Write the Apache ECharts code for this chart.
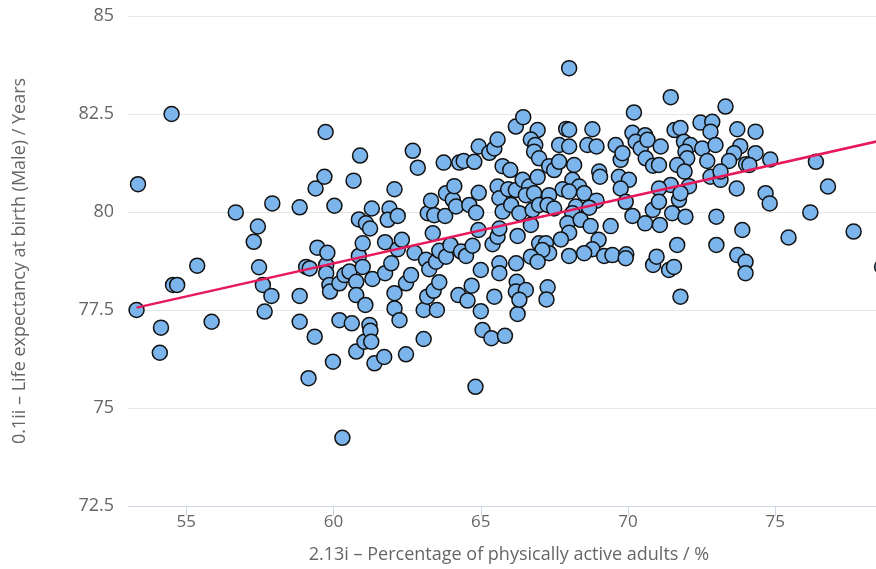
<!DOCTYPE html>
<html lang="en">
<head>
    <meta charset="UTF-8">
    <title>Activity vs life expectancy</title>
    <script src="https://cdn.jsdelivr.net/npm/echarts@6/dist/echarts.min.js"></script>
    <style type="text/css">
        html, body {
            margin: 0;
            height: 100%;
            background: #ffffff;
        }
        #chart {
            width: 876px;
            height: 569px;
        }
    </style>
</head>
<body>
    <div id="chart"></div>
    <script type="text/javascript">
        // x: % physically active adults, y: male life expectancy (years)
        var activeAdults = [
            53.31, 53.36, 54.14, 54.10, 54.50, 54.55, 54.69, 55.37, 55.86, 56.68,
            57.29, 57.43, 57.47, 57.60, 57.66, 57.89, 57.92, 58.85, 58.85, 58.85,
            59.07, 59.19, 59.15, 59.36, 59.39, 59.45, 59.69, 59.73, 59.75, 59.75,
            59.79, 59.86, 59.88, 59.98, 60.03, 60.20, 60.20, 60.30, 60.37, 60.54,
            60.62, 60.68, 60.77, 60.77, 60.77, 60.86, 60.86, 60.90, 60.99, 60.99,
            61.05, 61.08, 61.10, 61.24, 61.22, 61.25, 61.28, 61.30, 61.32, 61.39,
            61.75, 61.75, 61.72, 61.90, 61.84, 61.96, 62.07, 62.07, 62.07, 62.18,
            62.18, 62.24, 62.32, 62.46, 62.46, 62.63, 62.69, 62.75, 62.86, 63.06,
            63.06, 63.14, 63.18, 63.20, 63.25, 63.31, 63.37, 63.40, 63.42, 63.48,
            63.51, 63.59, 63.59, 63.74, 63.79, 63.82, 63.82, 63.97, 64.05, 64.10,
            64.16, 64.24, 64.27, 64.33, 64.42, 64.50, 64.55, 64.61, 64.69, 64.72,
            64.78, 64.82, 64.84, 64.92, 64.93, 64.93, 65.00, 65.00, 65.06, 65.29,
            65.36, 65.40, 65.46, 65.46, 65.57, 65.57, 65.57, 65.63, 65.63, 65.63,
            65.63, 65.74, 65.74, 65.82, 65.93, 66.00, 66.03, 66.20, 66.19, 66.19,
            66.25, 66.22, 66.19, 66.25, 66.44, 66.42, 66.64, 66.93, 66.53, 66.81,
            66.31, 66.76, 66.98, 66.70, 66.53, 66.31, 66.93, 66.70, 66.85, 66.81,
            66.98, 67.90, 68.00, 68.79, 70.15, 70.58, 70.20, 67.66, 68.00, 68.62,
            68.93, 69.58, 70.26, 70.43, 70.66, 69.75, 69.81, 70.60, 70.85, 67.32,
            67.49, 67.66, 68.17, 69.02, 69.05, 69.69, 70.03, 69.75, 69.92, 68.11,
            68.34, 67.78, 68.00, 68.51, 68.93, 67.32, 67.27, 67.49, 68.23, 68.11,
            68.68, 67.94, 68.39, 68.73, 69.41, 70.15, 70.58, 70.84, 68.00, 67.72,
            69.00, 68.79, 66.98, 67.21, 67.32, 67.09, 66.70, 66.93, 68.00, 68.51,
            69.19, 69.47, 69.94, 69.92, 70.85, 67.27, 67.23, 71.45, 73.31, 72.46,
            72.86, 72.80, 71.58, 71.78, 73.71, 74.33, 71.11, 71.90, 72.12, 71.95,
            72.01, 72.52, 72.97, 73.81, 74.33, 73.60, 73.43, 72.69, 74.83, 74.01,
            74.12, 71.05, 71.67, 71.92, 72.80, 73.14, 73.14, 72.07, 71.45, 71.05,
            73.69, 74.67, 74.81, 71.05, 71.73, 71.78, 71.50, 71.95, 71.08, 73.00,
            73.88, 75.45, 71.67, 73.00, 70.97, 71.39, 71.56, 73.71, 73.99, 73.99,
            71.78, 76.38, 76.79, 76.19, 77.66, 78.63, 68.00
        ];
        var lifeExpectancy = [
            77.50, 80.71, 77.05, 76.41, 82.50, 78.14, 78.14, 78.63, 77.20, 79.99,
            79.24, 79.63, 78.59, 78.14, 77.46, 77.86, 80.22, 80.12, 77.86, 77.20,
            78.60, 78.56, 75.76, 76.82, 80.60, 79.09, 80.90, 82.04, 78.65, 78.44,
            78.96, 78.14, 77.97, 76.18, 80.16, 78.18, 77.24, 74.24, 78.39, 78.48,
            77.16, 80.80, 78.22, 77.88, 76.44, 78.88, 79.81, 81.44, 78.60, 79.20,
            76.69, 77.63, 79.71, 79.58, 77.12, 76.97, 76.69, 80.09, 78.29, 76.14,
            79.23, 78.44, 76.30, 80.09, 79.80, 78.69, 80.58, 77.93, 77.54, 79.90,
            79.05, 77.24, 79.29, 78.18, 76.37, 78.39, 81.56, 78.96, 81.13, 77.50,
            76.76, 78.78, 77.84, 79.97, 78.54, 80.29, 79.46, 77.99, 79.92, 78.73,
            77.50, 79.01, 78.21, 81.26, 79.90, 80.48, 78.86, 79.16, 80.31, 80.66,
            80.14, 77.88, 81.26, 78.99, 81.30, 78.88, 77.74, 80.18, 78.12, 79.14,
            81.28, 75.54, 79.98, 79.54, 81.67, 80.49, 78.52, 77.47, 76.99, 81.51,
            76.78, 79.18, 81.62, 77.84, 81.85, 80.65, 79.37, 80.35, 79.58, 78.69,
            78.44, 81.17, 80.01, 76.84, 80.58, 81.07, 80.18, 78.69, 82.18, 80.56,
            79.39, 78.22, 77.97, 77.40, 82.42, 80.82, 80.65, 80.89, 80.43, 80.48,
            79.97, 80.05, 80.18, 79.67, 78.01, 77.76, 82.09, 81.85, 81.71, 81.54,
            81.37, 82.12, 82.10, 82.11, 82.02, 81.96, 82.54, 81.71, 81.67, 81.71,
            81.67, 81.71, 81.79, 81.62, 81.84, 81.33, 81.50, 81.37, 81.18, 81.17,
            81.07, 81.28, 81.20, 81.03, 80.90, 80.90, 80.82, 80.60, 80.26, 80.82,
            80.65, 80.58, 80.52, 80.48, 80.29, 80.43, 80.18, 80.09, 80.14, 79.97,
            80.11, 79.71, 79.80, 79.64, 79.64, 79.90, 79.71, 80.05, 79.47, 79.30,
            79.29, 79.05, 79.20, 79.20, 78.95, 79.03, 78.86, 78.73, 78.88, 78.95,
            78.88, 78.90, 78.92, 78.82, 78.65, 78.08, 77.77, 82.93, 82.69, 82.28,
            82.30, 82.05, 82.09, 82.14, 82.11, 82.05, 81.67, 81.79, 81.71, 81.54,
            81.37, 81.62, 81.71, 81.68, 81.50, 81.50, 81.30, 81.30, 81.34, 81.22,
            81.20, 81.20, 81.20, 81.03, 80.90, 80.82, 81.03, 80.66, 80.69, 80.60,
            80.60, 80.48, 80.22, 80.26, 80.31, 80.48, 79.97, 79.88, 79.67, 79.88,
            79.54, 79.35, 79.16, 79.16, 78.86, 78.52, 78.60, 78.90, 78.73, 78.44,
            77.84, 81.28, 80.65, 79.99, 79.50, 78.60, 83.67
        ];
        // trend line end points
        var trendLine = [[53.31, 77.56], [78.63, 81.83]];
        var xTicks = [55, 60, 65, 70, 75];

        var points = [];
        for (var i = 0; i < activeAdults.length; i++) {
            points.push([activeAdults[i], lifeExpectancy[i]]);
        }

        var chart = echarts.init(document.getElementById('chart'));
        var option = {
            backgroundColor: '#ffffff',
            animation: false,
            grid: {
                left: 128,
                right: 0,
                top: 16,
                bottom: 63
            },
            xAxis: {
                type: 'value',
                min: 53.02,
                max: 78.42,
                name: '2.13i – Percentage of physically active adults / %',
                nameLocation: 'middle',
                nameGap: 40,
                nameTextStyle: {
                    color: '#666666',
                    fontSize: 18,
                    fontFamily: 'Open Sans',
                    padding: [0, 0, 0, 14]
                },
                axisLine: {
                    lineStyle: { color: '#ccd6eb', width: 1 }
                },
                axisTick: {
                    show: true,
                    length: 10,
                    customValues: xTicks,
                    lineStyle: { color: '#ccd6eb' }
                },
                axisLabel: {
                    customValues: xTicks,
                    margin: 8,
                    color: '#666666',
                    fontSize: 17,
                    fontFamily: 'Open Sans'
                },
                splitLine: { show: false }
            },
            yAxis: {
                type: 'value',
                min: 72.5,
                max: 85,
                interval: 2.5,
                name: '0.1ii – Life expectancy at birth (Male) / Years',
                nameLocation: 'middle',
                nameGap: 99,
                nameTextStyle: {
                    color: '#666666',
                    fontSize: 18,
                    fontFamily: 'Open Sans'
                },
                axisLine: { show: false },
                axisTick: { show: false },
                axisLabel: {
                    margin: 14,
                    color: '#666666',
                    fontSize: 18,
                    fontFamily: 'Open Sans'
                },
                splitLine: {
                    lineStyle: { color: '#e6e6e6', width: 1 }
                }
            },
            series: [
                {
                    type: 'scatter',
                    data: points,
                    symbol: 'circle',
                    symbolSize: 15,
                    clip: false,
                    itemStyle: {
                        color: '#7cb5ec',
                        borderColor: '#111111',
                        borderWidth: 1.5,
                        opacity: 1
                    }
                },
                {
                    type: 'line',
                    data: trendLine,
                    symbol: 'none',
                    clip: false,
                    z: 5,
                    lineStyle: { color: '#e8195a', width: 2.5 }
                }
            ]
        };
        chart.setOption(option);
    </script>
</body>
</html>
